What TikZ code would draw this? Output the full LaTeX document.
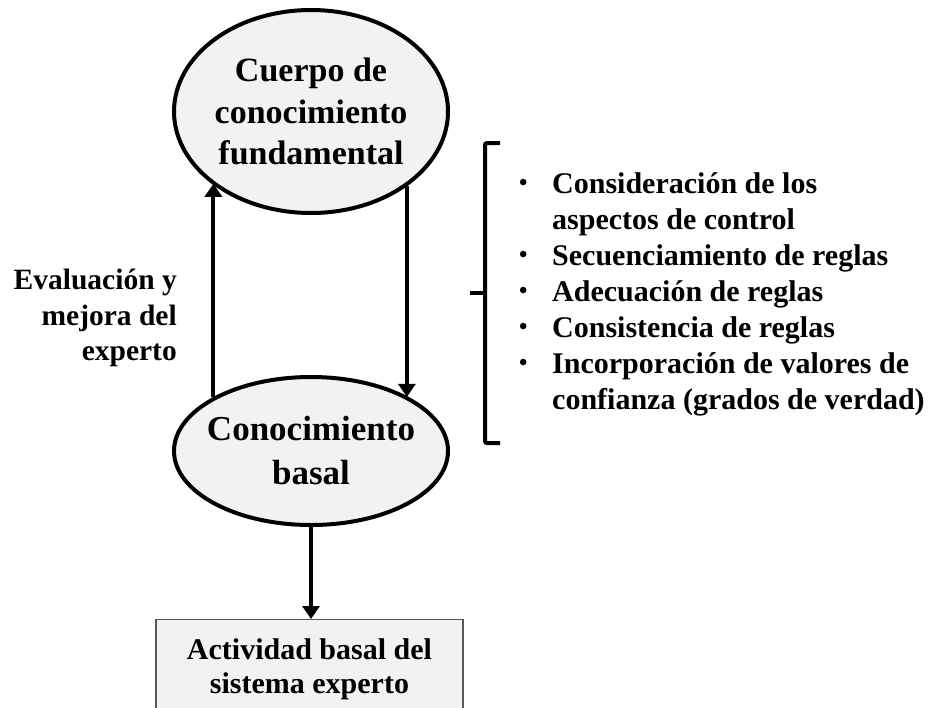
\documentclass[tikz,border=0pt]{standalone}
\usepackage{fontspec}
\setmainfont{Liberation Serif}
\usetikzlibrary{shapes.geometric,arrows.meta}
\definecolor{fillgray}{HTML}{F2F2F2}
\definecolor{boxline}{HTML}{595959}
\newcommand{\smbul}{\makebox[10pt][c]{\raisebox{2.5pt}{\fontsize{24}{24}\selectfont •}}}
\tikzset{
  ovalnode/.style={ellipse, draw=black, line width=4pt, fill=fillgray, inner ysep=0pt,
    inner xsep=-12pt, minimum width=274pt, align=center},
  arr/.style={line width=4pt, -{Triangle[width=17pt,length=13pt]}},
  boxnode/.style={rectangle, draw=boxline, line width=1.3pt, fill=fillgray, inner sep=0pt,
    minimum width=307pt, minimum height=100pt, align=center, font=\bfseries\fontsize{30}{34}\selectfont},
  lbl/.style={inner sep=0pt, align=right, font=\bfseries\fontsize{29.5}{35.5}\selectfont},
  listnode/.style={inner sep=0pt, font=\bfseries\fontsize{30}{36}\selectfont},
  brk/.style={line width=4pt, rounded corners=2pt}
}
\begin{document}
\begin{tikzpicture}[x=1pt,y=-1pt]
\useasboundingbox (0,0) rectangle (928,707);
\clip (0,0) rectangle (928,707);
\node[ovalnode, minimum height=203pt, font=\bfseries\fontsize{34}{41.5}\selectfont] (top) at (311,111.5) {Cuerpo de\\conocimiento\\fundamental};
\node[ovalnode, minimum height=148pt, font=\bfseries\fontsize{35}{44}\selectfont] (bot) at (311,451) {Conocimiento\\basal};
\node[boxnode, anchor=north] (box) at (309.5,619) {Actividad basal del\\sistema experto};
\node[lbl, anchor=east] (eval) at (177,318) {Evaluación y\\mejora del\\experto};
\node[listnode, anchor=north west] (list) at (518,168) {%
\begin{tabular}{@{}l@{\hspace{24pt}}l@{}}
\smbul&Consideración de los\\
 &aspectos de control\\
\smbul&Secuenciamiento de reglas\\
\smbul&Adecuación de reglas\\
\smbul&Consistencia de reglas\\
\smbul&Incorporación de valores de\\
 &confianza (grados de verdad)
\end{tabular}};
\draw[arr] (bot.151.2) -- (bot.151.2 |- top.216.8);
\draw[arr] (top.322.1) -- (top.322.1 |- bot.29.8);
\draw[arr] (bot.south) -- (bot.south |- box.north);
\coordinate (bt) at (500,143);
\coordinate (bb) at (500,443);
\coordinate (bm) at (470,293);
\draw[brk] (bt) -- (485,143) -- (485,443) -- (bb);
\draw[line width=4pt] (bm) -- (485,293);
\end{tikzpicture}
\end{document}
